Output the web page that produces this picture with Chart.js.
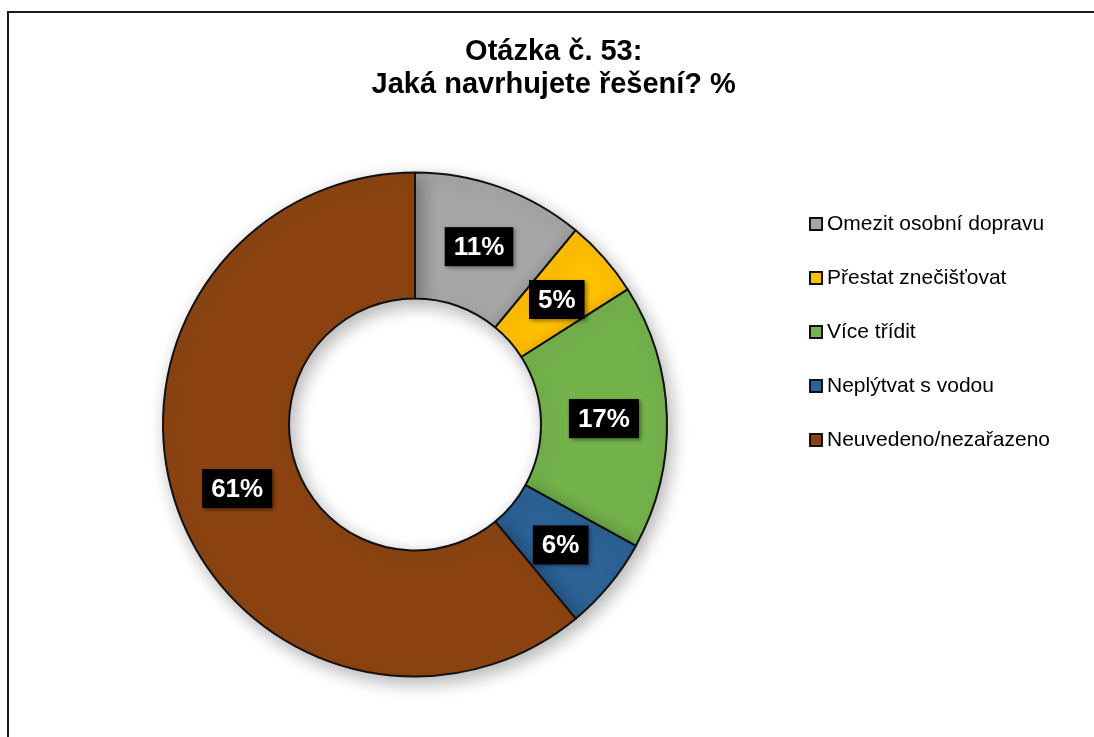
<!DOCTYPE html>
<html lang="cs">
<head>
<meta charset="utf-8">
<title>Otázka č. 53</title>
<script src="https://cdn.jsdelivr.net/npm/chart.js@4.4.1/dist/chart.umd.min.js"></script>
<style>
  html, body { margin: 0; padding: 0; background: #fff; overflow: hidden; }
  #marco {
    position: absolute; left: 7px; top: 11px;
    width: 1200px; height: 800px;
    border-left: 2px solid #1a1a1a; border-top: 2px solid #1a1a1a;
  }
  #grafica { position: absolute; left: 0; top: 0; }
</style>
</head>
<body>
<div id="marco">
  <canvas id="grafica" width="1094" height="724"></canvas>
</div>
<script>
// Datos de la grafica (porcentajes)
const titulo = ["Otázka č. 53:", "Jaká navrhujete řešení? %"];
const etiquetas = [
  "Omezit osobní dopravu",
  "Přestat znečišťovat",
  "Více třídit",
  "Neplýtvat s vodou",
  "Neuvedeno/nezařazeno",
];
const valores = [11, 5, 17, 6, 61];
const colores = ["#A6A6A6", "#FFC000", "#74B24B", "#2C6296", "#8C4311"];

const fuente = "'Liberation Sans', Arial, sans-serif";
Chart.defaults.font.family = fuente;

// Sombra del anillo
const sombraPlugin = {
  id: "sombra",
  beforeDatasetsDraw(chart) {
    const ctx = chart.ctx;
    ctx.save();
    ctx.shadowColor = "rgba(0, 0, 0, 0.3)";
    ctx.shadowBlur = 18;
    ctx.shadowOffsetX = 4;
    ctx.shadowOffsetY = 6;
  },
  afterDatasetsDraw(chart) {
    chart.ctx.restore();
  },
};

// Etiquetas negras con el porcentaje
const etiquetasPlugin = {
  id: "etiquetas",
  afterDatasetsDraw(chart) {
    const ctx = chart.ctx;
    const meta = chart.getDatasetMeta(0);
    ctx.save();
    ctx.font = "bold 26px " + fuente;
    ctx.textAlign = "center";
    ctx.textBaseline = "middle";
    meta.data.forEach((arc, index) => {
      const punto = arc.getCenterPoint();
      const texto = valores[index] + "%";
      const ancho = ctx.measureText(texto).width + 18;
      const alto = 39;
      ctx.shadowColor = "rgba(0, 0, 0, 0.4)";
      ctx.shadowBlur = 4;
      ctx.shadowOffsetX = 2;
      ctx.shadowOffsetY = 2;
      ctx.fillStyle = "#000";
      ctx.fillRect(punto.x - ancho / 2, punto.y - alto / 2, ancho, alto);
      ctx.shadowColor = "transparent";
      ctx.fillStyle = "#fff";
      ctx.fillText(texto, punto.x, punto.y + 1);
    });
    ctx.restore();
  },
};

const ctx = document.getElementById("grafica");

const donut = new Chart(ctx, {
  type: "doughnut",
  data: {
    labels: etiquetas,
    datasets: [
      {
        data: valores,
        backgroundColor: colores,
        borderColor: "#111",
        borderWidth: 2,
        hoverBorderWidth: 2,
      },
    ],
  },
  options: {
    responsive: false,
    animation: false,
    cutout: "50%",
    layout: {
      padding: { left: 38.5, right: 43, top: 0, bottom: 59.5 },
    },
    plugins: {
      tooltip: { enabled: false },
      title: {
        display: true,
        text: titulo,
        color: "#000",
        font: { size: 29, weight: "bold", lineHeight: 1.155 },
        padding: { top: 22.25, bottom: 69.25 },
      },
      legend: {
        position: "right",
        align: "start",
        fullSize: false,
        title: {
          display: true,
          text: "",
          font: { size: 5, lineHeight: 1 },
          padding: 2,
        },
        labels: {
          usePointStyle: true,
          pointStyle: "rect",
          boxWidth: 1,
          boxHeight: 12,
          padding: 33,
          color: "#000",
          font: { size: 21 },
        },
      },
    },
  },
  plugins: [sombraPlugin, etiquetasPlugin],
});
</script>
</body>
</html>
